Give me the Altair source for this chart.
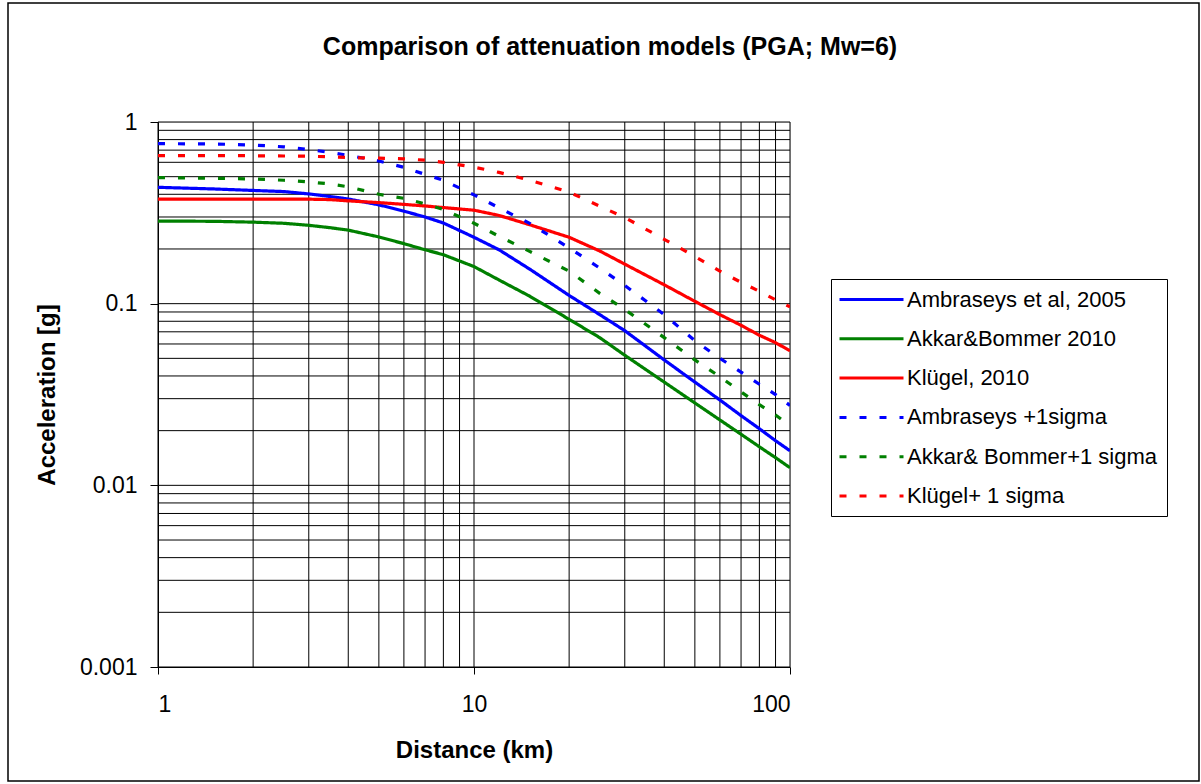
import altair as alt
import pandas as pd

# ---- data ----
distance_km = [1, 1.5, 2, 2.5, 3, 3.5, 4, 5, 6, 7, 8, 10, 12, 15, 20, 25, 30, 40, 50, 60, 70, 80, 90, 100]

ambraseys_2005 = [0.437, 0.428, 0.420, 0.414, 0.402, 0.389, 0.377, 0.350, 0.323, 0.300, 0.278, 0.232,
                  0.198, 0.155, 0.111, 0.087, 0.071, 0.049, 0.037, 0.0295, 0.0242, 0.0205, 0.0176, 0.0155]
akkar_bommer_2010 = [0.285, 0.284, 0.281, 0.277, 0.270, 0.262, 0.254, 0.233, 0.214, 0.198, 0.186, 0.160,
                     0.135, 0.110, 0.082, 0.065, 0.052, 0.037, 0.0284, 0.0229, 0.0191, 0.0163, 0.0142, 0.0125]
klugel_2010 = [0.376, 0.376, 0.376, 0.376, 0.376, 0.374, 0.368, 0.360, 0.352, 0.345, 0.338, 0.327,
               0.306, 0.272, 0.232, 0.195, 0.165, 0.127, 0.103, 0.087, 0.076, 0.067, 0.061, 0.055]
ambraseys_sigma = [0.760, 0.757, 0.747, 0.730, 0.705, 0.681, 0.655, 0.610, 0.563, 0.515, 0.478, 0.397,
                   0.337, 0.277, 0.203, 0.157, 0.126, 0.087, 0.0625, 0.050, 0.042, 0.036, 0.0316, 0.0275]
akkar_sigma = [0.494, 0.490, 0.486, 0.478, 0.468, 0.456, 0.440, 0.400, 0.380, 0.354, 0.330, 0.277,
               0.235, 0.194, 0.151, 0.114, 0.093, 0.065, 0.049, 0.0396, 0.0327, 0.0278, 0.0244, 0.0213]
klugel_sigma = [0.653, 0.653, 0.652, 0.650, 0.648, 0.643, 0.637, 0.632, 0.627, 0.616, 0.600, 0.564,
                0.528, 0.478, 0.411, 0.344, 0.298, 0.226, 0.182, 0.151, 0.131, 0.117, 0.105, 0.096]

series_names = ["Ambraseys et al, 2005", "Akkar&Bommer 2010", "Klügel, 2010",
                "Ambraseys +1sigma", "Akkar& Bommer+1 sigma", "Klügel+ 1 sigma"]
series_values = [ambraseys_2005, akkar_bommer_2010, klugel_2010,
                 ambraseys_sigma, akkar_sigma, klugel_sigma]
series_colors = ["#0000FF", "#008000", "#FF0000", "#0000FF", "#008000", "#FF0000"]
series_dashes = [[1, 0], [1, 0], [1, 0], [7, 13], [7, 13], [7, 13]]

x_grid = [1, 2, 3, 4, 5, 6, 7, 8, 9, 10, 20, 30, 40, 50, 60, 70, 80, 90, 100]
y_grid = [0.001, 0.002, 0.003, 0.004, 0.005, 0.006, 0.007, 0.008, 0.009,
          0.01, 0.02, 0.03, 0.04, 0.05, 0.06, 0.07, 0.08, 0.09,
          0.1, 0.2, 0.3, 0.4, 0.5, 0.6, 0.7, 0.8, 0.9, 1]
x_ticks = [1, 10, 100]
y_ticks = [0.001, 0.01, 0.1, 1]
chart_title = "Comparison of attenuation models (PGA; Mw=6)"

rows = []
for name, vals in zip(series_names, series_values):
    for d, v in zip(distance_km, vals):
        rows.append({"distance": d, "accel": v, "series": name})
df = pd.DataFrame(rows)

FONT = "Liberation Sans"
W, H = 632, 545

xscale = alt.Scale(type="log", domain=[1, 100], nice=False)
yscale = alt.Scale(type="log", domain=[0.001, 1], nice=False)

axis_style = dict(
    domainColor="black", domainWidth=1, tickColor="black", tickWidth=1,
    labelFont=FONT, labelFontSize=23, labelColor="black",
    titleFont=FONT, titleFontSize=24, titleFontWeight="bold", titleColor="black",
)
x_axis = alt.Axis(values=x_ticks, format="~g", grid=False, title="Distance (km)",
                  tickSize=7, labelPadding=19, titleY=83, titleBaseline="middle", **axis_style)
y_axis = alt.Axis(values=y_ticks, format="~g", grid=False, title="Acceleration [g]",
                  tickSize=8, labelPadding=13, titleX=-111, titleY=H / 2,
                  titleBaseline="middle", titleAlign="center", titleAngle=270, **axis_style)

X = alt.X("distance:Q", scale=xscale, axis=x_axis)
Y = alt.Y("accel:Q", scale=yscale, axis=y_axis)

grid_x = alt.Chart(pd.DataFrame({"distance": x_grid})).mark_rule(color="black", strokeWidth=1).encode(x=X)
grid_y = alt.Chart(pd.DataFrame({"accel": y_grid})).mark_rule(color="black", strokeWidth=1).encode(y=Y)

legend_cfg = dict(
    title=None, orient="none", legendX=673, legendY=157,
    symbolType="M-3.2,0L3.2,0", symbolSize=400, symbolStrokeWidth=3, symbolOffset=20,
    labelFont=FONT, labelFontSize=22, labelColor="black", labelOffset=24,
    strokeColor="black", fillColor="white", padding=9, rowPadding=16.3,
    labelLimit=400,
)

lines = alt.Chart(df).mark_line(strokeWidth=3.2, clip=True).encode(
    x=X, y=Y,
    color=alt.Color("series:N", scale=alt.Scale(domain=series_names, range=series_colors),
                    legend=alt.Legend(**legend_cfg)),
    strokeDash=alt.StrokeDash("series:N", scale=alt.Scale(domain=series_names, range=series_dashes),
                              legend=alt.Legend(**legend_cfg)),
)

frame = alt.Chart(pd.DataFrame({"a": [0]})).mark_rect(fill=None, stroke="black", strokeWidth=1.5).encode(
    x=alt.value(-150), x2=alt.value(1041), y=alt.value(-119), y2=alt.value(659)
)

title = alt.Chart(pd.DataFrame({"t": [chart_title]})).mark_text(
    font=FONT, fontSize=25, fontWeight="bold", color="black", align="center", baseline="middle"
).encode(text="t:N", x=alt.value(452), y=alt.value(-75))

chart = alt.layer(grid_x, grid_y, lines, frame, title).properties(
    width=W, height=H,
    autosize=alt.AutoSizeParams(type="none"),
    padding={"left": 158, "top": 122, "right": 411, "bottom": 117},
).configure_view(stroke=None).configure(background="white")

chart.save("out.html", embed_options={"renderer": "svg", "actions": False})
